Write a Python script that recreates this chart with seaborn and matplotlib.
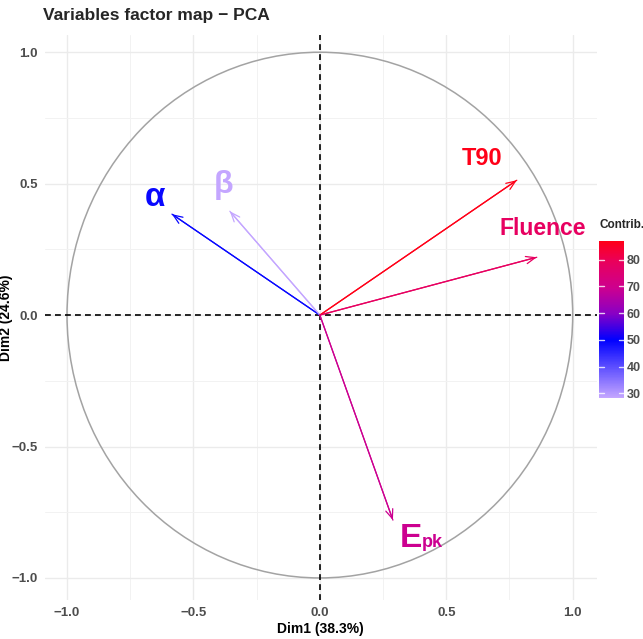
import numpy as np
import pandas as pd
import matplotlib
matplotlib.use("Agg")
import matplotlib.pyplot as plt
from matplotlib.colors import LinearSegmentedColormap, Normalize
from matplotlib.patches import Circle
import seaborn as sns

# PCA variable coordinates on Dim1 / Dim2 and their contributions
variables = ["α", "β", "T90", "Fluence", "Epk"]
dim1 = [-0.585, -0.356, 0.779, 0.858, 0.289]
dim2 = [0.384, 0.395, 0.513, 0.220, -0.780]
contrib = [49.0, 28.3, 87.0, 78.4, 69.2]
tick_vals = [-1.0, -0.5, 0.0, 0.5, 1.0]
minor_vals = [-0.75, -0.25, 0.25, 0.75]
cbar_ticks = [30, 40, 50, 60, 70, 80]

sns.set_theme(style="white")
plt.rcParams["font.family"] = ["Liberation Sans", "DejaVu Sans"]

df = pd.DataFrame({"var": variables, "x": dim1, "y": dim2, "contrib": contrib})

cmin, cmax = min(contrib), max(contrib)
norm = Normalize(vmin=cmin, vmax=cmax)
mid = (50 - cmin) / (cmax - cmin)
up = lambda f: mid + (1 - mid) * f
cmap = LinearSegmentedColormap.from_list(
    "contrib",
    [(0.0, "#C4A6FF"), (mid, "#0000FF"),
     (up(0.27), "#8A00C4"),
     (up(0.52), "#CC0090"),
     (up(0.80), "#EA005A"),
     (1.0, "#FF0018")])

fig = plt.figure(figsize=(6.43, 6.39), dpi=100)
ax = fig.add_axes([0.070, 0.061, 0.858, 0.884])

# arrow shafts from the origin
seg = pd.concat([
    pd.DataFrame({"var": df["var"], "x": 0.0, "y": 0.0, "contrib": df["contrib"]}),
    df,
]).reset_index(drop=True)
sns.lineplot(data=seg, x="x", y="y", units="var", estimator=None, hue="contrib",
             palette=cmap, hue_norm=norm, legend=False, linewidth=0.9, ax=ax,
             sort=False, zorder=4)

# correlation circle
ax.add_patch(Circle((0, 0), 1.0, fill=False, edgecolor="#A3A3A3", linewidth=1.1, zorder=2))

ax.axhline(0, color="black", linestyle=(0, (3.5, 2.5)), linewidth=1.2, zorder=3)
ax.axvline(0, color="black", linestyle=(0, (3.5, 2.5)), linewidth=1.2, zorder=3)

for v, x, y, c in zip(variables, dim1, dim2, contrib):
    ax.annotate("", xy=(x, y), xytext=(0, 0),
                arrowprops=dict(arrowstyle="->,head_length=0.55,head_width=0.22",
                                color=cmap(norm(c)), linewidth=0.9, shrinkA=0, shrinkB=0),
                zorder=5)

def col(name):
    return cmap(norm(contrib[variables.index(name)]))

ax.text(-0.652, 0.448, "α", color=col("α"), fontsize=24, fontweight="bold",
        ha="center", va="center", zorder=6)
ax.text(-0.379, 0.494, "β", color=col("β"), fontsize=23, fontweight="bold",
        ha="center", va="center", zorder=6)
ax.text(0.640, 0.597, "T90", color=col("T90"), fontsize=17, fontweight="bold",
        ha="center", va="center", zorder=6)
ax.text(0.881, 0.331, "Fluence", color=col("Fluence"), fontsize=16.5, fontweight="bold",
        ha="center", va="center", zorder=6)
ax.text(0.318, -0.882, "E", color=col("Epk"), fontsize=24, fontweight="bold",
        ha="left", va="baseline", zorder=6)
ax.text(0.404, -0.882, "pk", color=col("Epk"), fontsize=13, fontweight="bold",
        ha="left", va="baseline", zorder=6)

ax.set_xlim(-1.087, 1.095)
ax.set_ylim(-1.084, 1.065)
ax.set_xticks(tick_vals)
ax.set_yticks(tick_vals)
ax.set_xticks(minor_vals, minor=True)
ax.set_yticks(minor_vals, minor=True)
ax.set_xticklabels([f"{v:.1f}".replace("-", "−") for v in tick_vals])
ax.set_yticklabels([f"{v:.1f}".replace("-", "−") for v in tick_vals])
ax.grid(which="major", color="#EBEBEB", linewidth=1.0, zorder=0)
ax.grid(which="minor", color="#F2F2F2", linewidth=0.7, zorder=0)
ax.set_axisbelow(True)
ax.tick_params(axis="both", which="both", length=0, labelsize=9.5,
               labelcolor="#4D4D4D", pad=5)
for lab in ax.get_xticklabels() + ax.get_yticklabels():
    lab.set_fontweight("bold")
for s in ax.spines.values():
    s.set_visible(False)

ax.set_xlabel("Dim1 (38.3%)", fontsize=10, fontweight="bold", color="black", labelpad=2)
ax.set_ylabel("Dim2 (24.6%)", fontsize=10, fontweight="bold", color="black")
ax.yaxis.set_label_coords(-0.058, 0.5)
fig.text(0.067, 0.975, "Variables factor map − PCA", fontsize=12.5, fontweight="bold",
         ha="left", va="center")

# colour bar for contributions
cax = fig.add_axes([0.9316, 0.3772, 0.0389, 0.2457])
sm = matplotlib.cm.ScalarMappable(norm=norm, cmap=cmap)
cb = fig.colorbar(sm, cax=cax)
cb.outline.set_visible(False)
cb.set_ticks(cbar_ticks)
cb.ax.tick_params(length=0, labelsize=9, labelcolor="#4D4D4D", pad=2)
for lab in cb.ax.get_yticklabels():
    lab.set_fontweight("bold")
for t in cbar_ticks:
    cax.plot([0.0, 0.2], [t, t], color="white", linewidth=1.0, alpha=0.8,
             transform=cax.get_yaxis_transform())
    cax.plot([0.8, 1.0], [t, t], color="white", linewidth=1.0, alpha=0.8,
             transform=cax.get_yaxis_transform())
fig.text(0.9316, 0.648, "Contrib.", fontsize=8.5, fontweight="bold", ha="left", va="center")

fig.savefig("out.png", dpi=100)
